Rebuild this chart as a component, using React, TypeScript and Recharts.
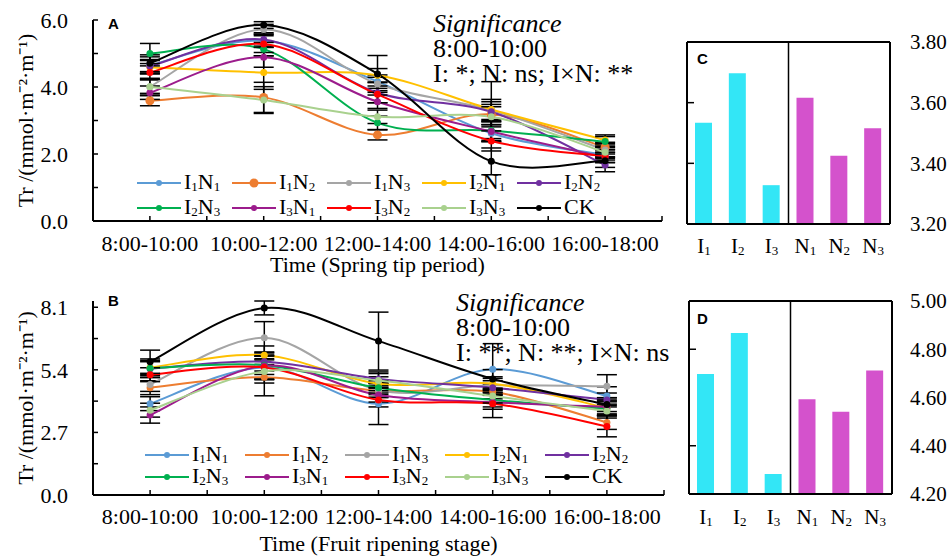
import React from "react";
import { LineChart, Line, XAxis, YAxis, ErrorBar, BarChart, Bar, Cell, ReferenceLine } from "recharts";

const SERIF = "'Liberation Serif', 'Times New Roman', serif";
const SANS = "'Liberation Sans', Arial, sans-serif";

const timeSlots = ["8:00-10:00", "10:00-12:00", "12:00-14:00", "14:00-16:00", "16:00-18:00"];
const treatments = ["I1N1", "I1N2", "I1N3", "I2N1", "I2N2", "I2N3", "I3N1", "I3N2", "I3N3", "CK"];
const treatmentColors = ["#5B9BD5", "#ED7D31", "#A5A5A5", "#FFC000", "#7030A0", "#00B050", "#9C1C8C", "#FF0000", "#A9D18E", "#000000"];

// Tr, spring tip period (A), one row per treatment
const springTr = [
  [4.65, 5.38, 4.16, 2.62, 1.97],
  [3.59, 3.69, 2.57, 3.18, 2.2],
  [4.01, 5.72, 4.09, 3.31, 2.12],
  [4.59, 4.43, 4.35, 3.33, 2.42],
  [4.62, 5.42, 3.83, 3.26, 1.67],
  [5.0, 5.13, 2.93, 2.7, 2.37],
  [3.83, 4.89, 3.56, 2.67, 1.9],
  [4.43, 5.28, 3.78, 2.39, 1.94],
  [4.01, 3.61, 3.11, 3.11, 2.05],
  [4.71, 5.85, 4.39, 1.78, 1.8],
];
const springErr = [
  [0.25, 0.2, 0.2, 0.25, 0.15],
  [0.15, 0.45, 0.15, 0.3, 0.15],
  [0.2, 0.15, 0.2, 0.85, 0.2],
  [0.2, 0.5, 0.2, 0.3, 0.15],
  [0.2, 0.2, 0.3, 0.3, 0.2],
  [0.3, 0.2, 0.2, 0.3, 0.15],
  [0.2, 0.3, 0.2, 0.3, 0.15],
  [0.2, 0.25, 0.25, 0.3, 0.2],
  [0.25, 0.4, 0.2, 0.3, 0.15],
  [0.25, 0.1, 0.55, 0.4, 0.2],
];

// Tr, fruit ripening stage (B)
const ripeTr = [
  [3.94, 5.5, 3.94, 5.43, 4.27],
  [4.63, 5.08, 4.5, 4.45, 3.13],
  [4.77, 6.78, 4.52, 4.73, 4.69],
  [5.5, 6.03, 4.8, 4.8, 3.76],
  [5.45, 5.75, 5.01, 4.63, 4.1],
  [5.47, 5.6, 4.63, 4.1, 3.72],
  [3.45, 5.57, 4.31, 4.0, 3.8],
  [5.19, 5.5, 4.1, 3.94, 2.96],
  [3.66, 5.33, 4.94, 4.27, 3.62],
  [5.75, 8.07, 6.64, 5.01, 3.9],
];
const ripeErr = [
  [0.3, 0.5, 0.9, 1.1, 0.4],
  [0.3, 0.8, 0.3, 0.3, 0.3],
  [0.3, 0.7, 0.3, 0.3, 0.5],
  [0.3, 0.4, 0.3, 0.3, 0.3],
  [0.3, 0.4, 0.3, 0.3, 0.3],
  [0.4, 0.4, 0.3, 0.3, 0.3],
  [0.35, 0.6, 0.3, 0.3, 0.3],
  [0.3, 0.5, 0.3, 0.6, 0.45],
  [0.3, 0.5, 0.3, 0.3, 0.3],
  [0.5, 0.3, 1.25, 0.4, 0.3],
];

const springYTicks = [0, 1, 2, 3, 4, 5, 6];
const ripeYTicks = [0, 1.35, 2.7, 4.05, 5.4, 6.75, 8.1];

const springSignificance = "I: *; N: ns; I×N: **";
const ripeSignificance = "I: **; N: **; I×N: ns";

// main-effect means (C, D)
const factorLabels = ["I1", "I2", "I3", "N1", "N2", "N3"];
const factorColors = ["#33E6F6", "#33E6F6", "#33E6F6", "#D452CC", "#D452CC", "#D452CC"];
const springMeans = [3.534, 3.697, 3.328, 3.616, 3.425, 3.516];
const ripeMeans = [4.697, 4.867, 4.283, 4.593, 4.541, 4.712];
const springBarTicks = [3.2, 3.4, 3.6, 3.8];
const ripeBarTicks = [4.2, 4.4, 4.6, 4.8, 5.0];

// split "I1N2" into ["I","1","N","2"]
const parts = (s: string) => s.split(/(\d)/).filter(Boolean);
const isDigit = (p: string) => /^\d$/.test(p);

// Excel-style smoothed line (Catmull-Rom through the points)
function excelSmooth(context: any) {
  let pts: number[][] = [];
  return {
    areaStart() {},
    areaEnd() {},
    lineStart() {
      pts = [];
    },
    lineEnd() {
      const n = pts.length;
      if (!n) return;
      context.moveTo(pts[0][0], pts[0][1]);
      for (let i = 0; i < n - 1; i++) {
        const p0 = pts[Math.max(i - 1, 0)];
        const p1 = pts[i];
        const p2 = pts[i + 1];
        const p3 = pts[Math.min(i + 2, n - 1)];
        context.bezierCurveTo(
          p1[0] + (p2[0] - p0[0]) / 6,
          p1[1] + (p2[1] - p0[1]) / 6,
          p2[0] - (p3[0] - p1[0]) / 6,
          p2[1] - (p3[1] - p1[1]) / 6,
          p2[0],
          p2[1]
        );
      }
    },
    point(x: number, y: number) {
      pts.push([x, y]);
    },
  };
}

const xTickPositions = Array.from({ length: timeSlots.length * 2 + 1 }, (_, i) => i / 2);

function buildRows(values: number[][], errors: number[][]) {
  return timeSlots.map((t, i) => {
    const row: any = { x: i + 0.5, slot: t };
    treatments.forEach((k, s) => {
      row[k] = values[s][i];
      row[k + "_e"] = errors[s][i];
    });
    return row;
  });
}

function SubLabel({ text, size }: any) {
  return (
    <span style={{ fontSize: size, whiteSpace: "nowrap", lineHeight: "18px" }}>
      {parts(text).map((p, i) =>
        isDigit(p) ? (
          <span key={i} style={{ fontSize: Math.round(size * 0.6), position: "relative", top: 2, lineHeight: "10px" }}>
            {p}
          </span>
        ) : (
          <span key={i}>{p}</span>
        )
      )}
    </span>
  );
}

function SubTick(props: any) {
  const { x, y, payload } = props;
  return (
    <text x={x} y={y} dy={15} textAnchor="middle" fill="#000" fontSize={21} fontFamily={SERIF}>
      {parts(String(payload.value)).map((p, i) =>
        isDigit(p) ? (
          <tspan key={i} fontSize={13} dy={2}>
            {p}
          </tspan>
        ) : (
          <tspan key={i}>{p}</tspan>
        )
      )}
    </text>
  );
}

function TrChart({ values, errors, yTicks, xTitle, height, margin, xAxisHeight, xTickMargin, bigOrange }: any) {
  const data = buildRows(values, errors);
  return (
    <LineChart width={680} height={height} data={data} margin={margin}>
      <XAxis
        type="number"
        dataKey="x"
        domain={[0, timeSlots.length]}
        ticks={xTickPositions}
        interval={0}
        height={xAxisHeight}
        stroke="#000"
        axisLine={{ strokeWidth: 2 }}
        tickLine={{ strokeWidth: 1.5 }}
        tickSize={-5}
        tickMargin={xTickMargin}
        tick={{ fill: "#000", fontSize: 22, fontFamily: SERIF }}
        tickFormatter={(v: number) => (Number.isInteger(v) ? "" : timeSlots[Math.floor(v)])}
        label={{ value: xTitle, position: "insideBottom", offset: 8, fill: "#000", style: { fontSize: 22, fontFamily: SERIF } }}
      />
      <YAxis
        type="number"
        width={93}
        domain={[0, yTicks[yTicks.length - 1]]}
        ticks={yTicks}
        interval={0}
        stroke="#000"
        axisLine={{ strokeWidth: 2 }}
        tickLine={{ strokeWidth: 1.5 }}
        tickSize={-5}
        tickMargin={30}
        tick={{ fill: "#000", fontSize: 22, fontFamily: SERIF }}
        tickFormatter={(v: number, i: number) => (i % 2 === 0 ? v.toFixed(1) : "")}
        label={{
          value: "Tr /(mmol·m⁻²·m⁻¹)",
          angle: -90,
          position: "insideLeft",
          offset: 25,
          fill: "#000",
          style: { textAnchor: "middle", fontSize: 22, fontFamily: SERIF },
        }}
      />
      {treatments.map((k, s) => {
        const c = treatmentColors[s];
        const r = bigOrange && k === "I1N2" ? 4.5 : 3.5;
        return (
          <Line
            key={k}
            dataKey={k}
            type={excelSmooth as any}
            stroke={c}
            strokeWidth={2}
            dot={{ r, fill: c, stroke: c, strokeWidth: 0 }}
            activeDot={false}
            isAnimationActive={false}
          >
            <ErrorBar dataKey={k + "_e"} width={10} stroke="#000" strokeWidth={1.5} direction="y" isAnimationActive={false} />
          </Line>
        );
      })}
    </LineChart>
  );
}

function SeriesLegend({ left, top, pitch, rowGap, bigOrange }: any) {
  return (
    <div style={{ position: "absolute", left, top, width: pitch * 5, display: "flex", flexWrap: "wrap" }}>
      {treatments.map((k, s) => {
        const c = treatmentColors[s];
        return (
          <div key={k} style={{ width: pitch, height: rowGap, display: "flex", alignItems: "center" }}>
            <svg width={44} height={12} style={{ display: "block" }}>
              <line x1={0} x2={44} y1={6} y2={6} stroke={c} strokeWidth={2} />
              <circle cx={22} cy={6} r={bigOrange && k === "I1N2" ? 4.5 : 3} fill={c} />
            </svg>
            <span style={{ marginLeft: 3, lineHeight: "18px" }}>
              <SubLabel text={k} size={22} />
            </span>
          </div>
        );
      })}
    </div>
  );
}

function MeansChart({ values, ticks, innerTicks, height, margin, leftWidth, rightWidth, xAxisHeight, rightMargin, xTickMargin }: any) {
  const data = factorLabels.map((name, i) => ({ name, v: values[i] }));
  const domain = [ticks[0], ticks[ticks.length - 1]];
  return (
    <BarChart width={292} height={height} data={data} margin={margin}>
      <XAxis
        xAxisId="top"
        orientation="top"
        dataKey="name"
        height={1}
        stroke="#000"
        axisLine={{ strokeWidth: 2 }}
        tickLine={false}
        tickFormatter={() => ""}
      />
      <XAxis
        dataKey="name"
        height={xAxisHeight}
        interval={0}
        stroke="#000"
        axisLine={{ strokeWidth: 2 }}
        tickLine={false}
        tickSize={0}
        tickMargin={xTickMargin}
        tick={<SubTick />}
      />
      <YAxis
        yAxisId="l"
        type="number"
        width={leftWidth}
        domain={domain}
        allowDataOverflow
        ticks={innerTicks}
        interval={0}
        stroke="#000"
        axisLine={{ strokeWidth: 2 }}
        tickLine={{ strokeWidth: 1.5 }}
        tickSize={-7}
        tickFormatter={() => ""}
      />
      <YAxis
        yAxisId="r"
        orientation="right"
        type="number"
        width={rightWidth}
        domain={domain}
        allowDataOverflow
        ticks={ticks}
        interval={0}
        stroke="#000"
        axisLine={{ strokeWidth: 2 }}
        tickLine={false}
        tickMargin={rightMargin}
        tick={{ fill: "#000", fontSize: 21, fontFamily: SERIF }}
        tickFormatter={(v: number) => v.toFixed(2)}
      />
      <ReferenceLine x="N1" position="start" yAxisId="l" stroke="#000" strokeWidth={1.5} />
      <Bar dataKey="v" yAxisId="l" barSize={17} isAnimationActive={false}>
        {data.map((d, i) => (
          <Cell key={d.name} fill={factorColors[i]} />
        ))}
      </Bar>
    </BarChart>
  );
}

function Significance({ left, top, text }: any) {
  return (
    <div style={{ position: "absolute", left, top, fontSize: 26, lineHeight: "25px", whiteSpace: "nowrap", color: "#000" }}>
      <div style={{ fontStyle: "italic" }}>Significance</div>
      <div>{timeSlots[0]}</div>
      <div>{text}</div>
    </div>
  );
}

function PanelLetter({ left, top, letter }: any) {
  return (
    <div style={{ position: "absolute", left, top, fontFamily: SANS, fontWeight: 700, fontSize: 15, lineHeight: "15px", color: "#000" }}>
      {letter}
    </div>
  );
}

export default function App() {
  return (
    <div
      style={{
        position: "absolute",
        left: 0,
        top: 0,
        width: 952,
        height: 559,
        background: "#fff",
        fontFamily: SERIF,
        color: "#000",
        overflow: "hidden",
      }}
    >
      <div style={{ position: "absolute", left: 0, top: 0 }}>
        <TrChart
          values={springTr}
          errors={springErr}
          yTicks={springYTicks}
          xTitle="Time (Spring tip period)"
          height={280}
          margin={{ top: 20, right: 18, bottom: 0, left: 0 }}
          xAxisHeight={59}
          xTickMargin={19}
          bigOrange
        />
      </div>
      <div style={{ position: "absolute", left: 0, top: 280 }}>
        <TrChart
          values={ripeTr}
          errors={ripeErr}
          yTicks={ripeYTicks}
          xTitle="Time (Fruit ripening stage)"
          height={279}
          margin={{ top: 21, right: 16, bottom: 0, left: 0 }}
          xAxisHeight={64}
          xTickMargin={18}
        />
      </div>
      <div style={{ position: "absolute", left: 660, top: 0 }}>
        <MeansChart
          values={springMeans}
          ticks={springBarTicks}
          innerTicks={[3.4, 3.6]}
          height={280}
          margin={{ top: 41, right: 0, bottom: 0, left: 0 }}
          leftWidth={27}
          rightWidth={62}
          xAxisHeight={56}
          rightMargin={14}
          xTickMargin={14}
        />
      </div>
      <div style={{ position: "absolute", left: 660, top: 280 }}>
        <MeansChart
          values={ripeMeans}
          ticks={ripeBarTicks}
          innerTicks={[4.4, 4.8]}
          height={279}
          margin={{ top: 20, right: 0, bottom: 0, left: 0 }}
          leftWidth={29}
          rightWidth={60}
          xAxisHeight={65}
          rightMargin={12}
          xTickMargin={15}
        />
      </div>

      <SeriesLegend left={137} top={170} pitch={95} rowGap={25} bigOrange />
      <SeriesLegend left={145} top={444} pitch={100} rowGap={22} />

      <Significance left={433} top={11} text={springSignificance} />
      <Significance left={456} top={290} text={ripeSignificance} />

      <PanelLetter left={108} top={16} letter="A" />
      <PanelLetter left={108} top={293} letter="B" />
      <PanelLetter left={697} top={51} letter="C" />
      <PanelLetter left={697} top={311} letter="D" />
    </div>
  );
}
